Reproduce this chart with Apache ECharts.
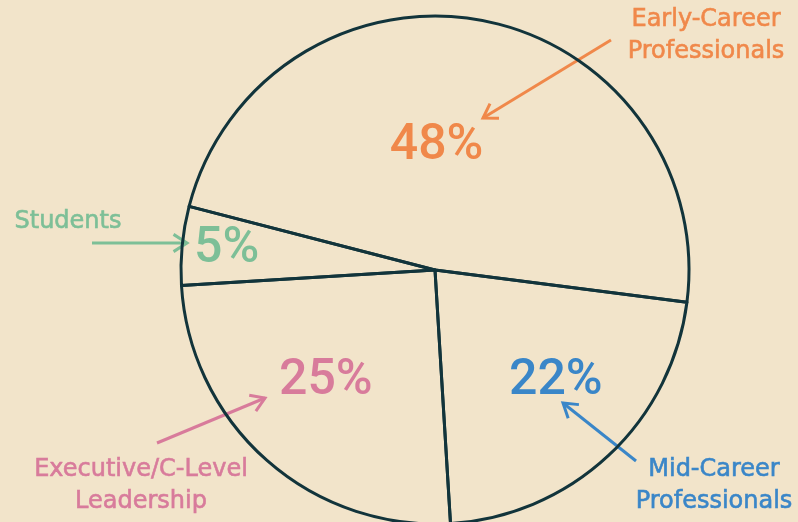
<!DOCTYPE html>
<html>
<head>
<meta charset="utf-8">
<script src="https://cdn.jsdelivr.net/npm/echarts@6/dist/echarts.min.js"></script>
<style>
html,body{margin:0;padding:0;background:#F2E4CA;}
#chart{width:798px;height:522px;}
</style>
</head>
<body>
<div id="chart"></div>
<script>
// ---- data ----
const categories = ['Early-Career Professionals', 'Mid-Career Professionals', 'Executive/C-Level Leadership', 'Students'];
const values = [48, 22, 25, 5];
const calloutNames = ['Early-Career\nProfessionals', 'Mid-Career\nProfessionals', 'Executive/C-Level\nLeadership', 'Students'];

// ---- style ----
const colors = ['#F0884A', '#3A86C8', '#D87B9B', '#7DBF97'];
const labelShift = [[-23, 4], [32, 17], [-23, 14], [-79, -8]];
const calloutPos = [[706, 36], [714, 486], [141, 486], [68, 222]];
const arrows = [
  [611, 40, 483, 118],
  [636, 461, 563, 403],
  [157, 443, 265, 398],
  [92, 243, 187, 243]
];

const chart = echarts.init(document.getElementById('chart'), null, {renderer: 'canvas'});

function arrowEls(a, color) {
  const [x1, y1, x2, y2] = a;
  const ang = Math.atan2(y2 - y1, x2 - x1);
  const L = 16, h = 0.57;
  const p1 = [x2 - L * Math.cos(ang - h), y2 - L * Math.sin(ang - h)];
  const p2 = [x2 - L * Math.cos(ang + h), y2 - L * Math.sin(ang + h)];
  return [
    {type: 'line', shape: {x1, y1, x2, y2}, style: {stroke: color, lineWidth: 3}, silent: true},
    {type: 'polyline', shape: {points: [p1, [x2, y2], p2]}, style: {stroke: color, lineWidth: 3, fill: null}, silent: true}
  ];
}

const graphics = [];
categories.forEach((c, i) => {
  graphics.push(...arrowEls(arrows[i], colors[i]));
  graphics.push({
    type: 'text', x: calloutPos[i][0], y: calloutPos[i][1], silent: true,
    style: {
      text: calloutNames[i], fill: colors[i],
      font: '24px "DejaVu Sans"', lineHeight: 32,
      stroke: colors[i], lineWidth: 0.6,
      align: 'center', verticalAlign: 'middle'
    }
  });
});

chart.setOption({
  backgroundColor: '#F2E4CA',
  animation: false,
  series: [{
    type: 'pie',
    center: [435, 270],
    radius: [0, 254],
    startAngle: 165.5,
    clockwise: true,
    silent: true,
    data: categories.map((c, i) => ({
      name: c, value: values[i],
      label: {color: colors[i]}
    })),
    itemStyle: {color: 'rgba(0,0,0,0)', borderColor: '#12343B', borderWidth: 3},
    label: {
      show: true, position: 'inside',
      formatter: p => p.value + '%',
      fontFamily: 'Roboto', fontWeight: 500, fontSize: 50
    },
    labelLine: {show: false},
    labelLayout: p => ({dx: labelShift[p.dataIndex][0], dy: labelShift[p.dataIndex][1]}),
    emphasis: {disabled: true}
  }],
  graphic: graphics
});
</script>
</body>
</html>
